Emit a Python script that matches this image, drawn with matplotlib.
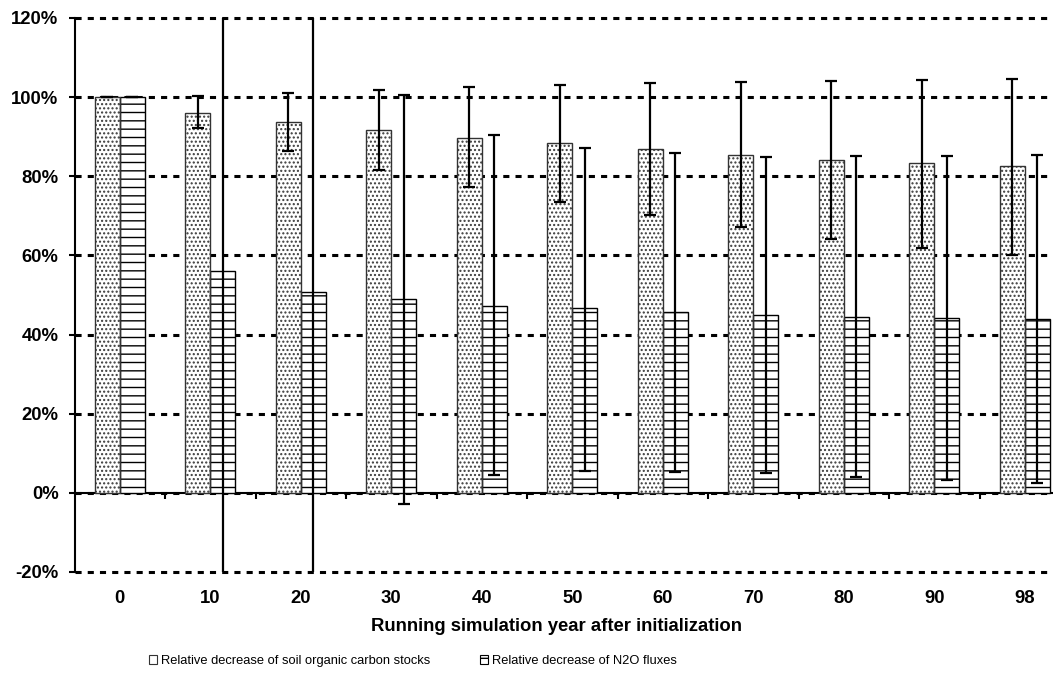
import numpy as np
import matplotlib
matplotlib.use('Agg')
import matplotlib.pyplot as plt
from matplotlib.patches import Patch

plt.rcParams['font.family'] = ['Liberation Sans', 'DejaVu Sans']
plt.rcParams['hatch.linewidth'] = 1.0

# data (percent)
years = ['0', '10', '20', '30', '40', '50', '60', '70', '80', '90', '98']
soc = [100, 96.1, 93.7, 91.7, 89.8, 88.4, 86.9, 85.3, 84.2, 83.4, 82.5]
soc_hi = [100, 100.3, 101.0, 101.8, 102.5, 103.0, 103.7, 103.8, 104.1, 104.4, 104.6]
soc_lo = [100, 92.1, 86.4, 81.7, 77.3, 73.5, 70.1, 67.2, 64.2, 62.0, 60.1]
n2o = [100, 56.0, 50.7, 48.9, 47.3, 46.6, 45.6, 45.0, 44.4, 44.1, 43.9]
n2o_hi = [100, 250, 250, 100.5, 90.5, 87.2, 85.8, 85.0, 85.1, 85.1, 85.5]
n2o_lo = [100, -150, -150, -2.8, 4.4, 5.6, 5.2, 4.9, 4.1, 3.3, 2.4]

soc_lab = 'Relative decrease of soil organic carbon stocks'
n2o_lab = 'Relative decrease of N2O fluxes'

x = np.arange(len(years))
w = 0.276
soc = np.array(soc)
n2o = np.array(n2o)
soc_err = [soc - np.array(soc_lo), np.array(soc_hi) - soc]
n2o_err = [n2o - np.array(n2o_lo), np.array(n2o_hi) - n2o]

fig = plt.figure(figsize=(10.53, 6.84), dpi=100)
ax = fig.add_axes([74.5 / 1053, 1 - 572 / 684, 995.5 / 1053, 554 / 684])

# soc bars: gray dots, then dark outline
ax.bar(x - w / 2, soc, w, facecolor='white', edgecolor='#3a3a3a', hatch='....', linewidth=0, zorder=2)
ax.bar(x - w / 2, soc, w, facecolor='none', edgecolor='#333333', linewidth=1.0, zorder=3)
# n2o bars: horizontal lines
ax.bar(x + w / 2, n2o, w, facecolor='white', edgecolor='black', hatch='--', linewidth=1.0, zorder=2)

ax.errorbar(x - w / 2, soc, yerr=soc_err, fmt='none', ecolor='black', elinewidth=1.6,
            capsize=4, capthick=1.6, zorder=4)
ax.errorbar(x + w / 2, n2o, yerr=n2o_err, fmt='none', ecolor='black', elinewidth=1.6,
            capsize=4, capthick=1.6, zorder=4)

ax.set_xlim(-0.5, len(years) - 0.5)
ax.set_ylim(-20, 120)
ax.set_yticks(np.arange(-20, 121, 20))
ax.set_yticklabels(['%d%%' % v for v in range(-20, 121, 20)], fontsize=13.3, fontweight='bold')
ax.tick_params(axis='y', direction='out', length=4, width=1.5, pad=7.5)

ax.set_xticks(x)
ax.set_xticklabels(years, fontsize=13.3, fontweight='bold')
ax.tick_params(axis='x', length=0, pad=13)

ax.set_axisbelow(True)
ax.yaxis.grid(True, color='black', linewidth=2.2, linestyle=(0, (2, 2)))
for gl in ax.get_ygridlines():
    gl.set_clip_on(False)
for s in ['top', 'right', 'bottom']:
    ax.spines[s].set_visible(False)
ax.spines['left'].set_linewidth(1.5)

# category axis line at zero with boundary ticks
sec = ax.secondary_xaxis(0, transform=ax.transData)
sec.set_xticks(x[:-1] + 0.5)
sec.set_xticklabels([])
sec.tick_params(direction='out', length=4, width=1.5)
sec.spines['bottom'].set_linewidth(1.5)

ax.set_xlabel('Running simulation year after initialization', fontsize=13.3, fontweight='bold')
ax.xaxis.set_label_coords(0.4837, -0.083)

handles = [Patch(facecolor='white', edgecolor='#333333', hatch='.', linewidth=0.8),
           Patch(facecolor='white', edgecolor='black', hatch='-', linewidth=0.8)]
fig.legend(handles, [soc_lab, n2o_lab], loc='center left', bbox_to_anchor=(137 / 1053, 1 - 661 / 684),
           ncol=2, frameon=False, fontsize=9.3, handlelength=0.62, handleheight=0.75,
           handletextpad=0.3, columnspacing=3.9)

fig.savefig('out.png', dpi=100)
